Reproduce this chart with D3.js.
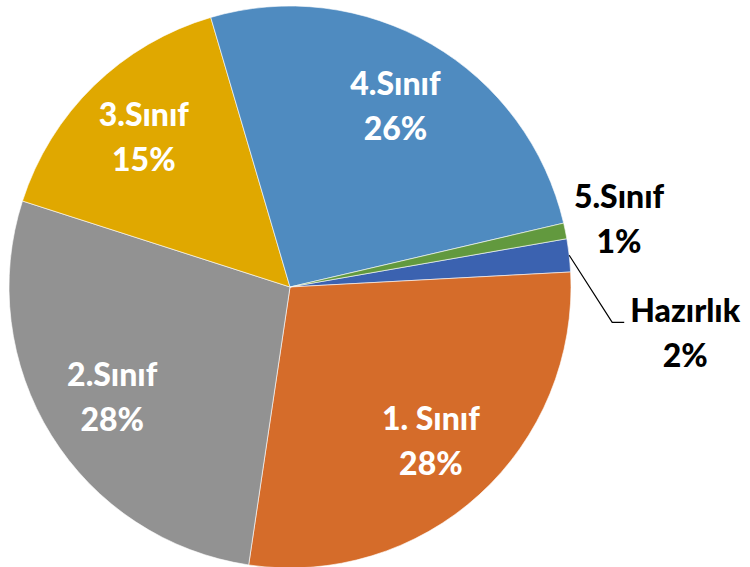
<!DOCTYPE html>
<html>
<head>
<meta charset="utf-8">
<script src="https://cdn.jsdelivr.net/npm/d3@7"></script>
<style>
  html, body { margin: 0; padding: 0; background: #fff; }
  svg { display: block; }
  text { font-family: Lato, "Open Sans", "DejaVu Sans", sans-serif; font-weight: 900; }
</style>
</head>
<body>
<svg id="chart" width="750" height="567"></svg>
<script>
// ---- data ----
const categories = ["Hazırlık", "1. Sınıf", "2.Sınıf", "3.Sınıf", "4.Sınıf", "5.Sınıf"];
const values = [1.9, 28.2, 27.6, 15.5, 25.9, 0.9];
const percentLabels = ["2%", "28%", "28%", "15%", "26%", "1%"];
const colors = ["#3B62B0", "#D56C2A", "#929292", "#E0A800", "#4F8BC0", "#62993E"];

// ---- layout ----
const W = 750, H = 567;
const cx = 290, cy = 287, R = 281;
const startDeg = 80.1;

const svg = d3.select("#chart");
const g = svg.append("g").attr("transform", `translate(${cx},${cy})`);

const pie = d3.pie()
  .value(d => d.v)
  .sort(null)
  .startAngle(startDeg * Math.PI / 180)
  .endAngle(startDeg * Math.PI / 180 + 2 * Math.PI);

const data = categories.map((c, i) => ({ c, v: values[i], p: percentLabels[i], col: colors[i] }));
const arcs = pie(data);

const arc = d3.arc().innerRadius(0).outerRadius(R);

g.selectAll("path.slice")
  .data(arcs)
  .enter().append("path")
  .attr("class", "slice")
  .attr("d", arc)
  .attr("fill", d => d.data.col)
  .attr("stroke", "#ffffff")
  .attr("stroke-opacity", 0.6)
  .attr("stroke-width", 1);

const fontSize = 32;
const lineGap = 45;

function polar(angle, r) {
  return [Math.sin(angle) * r, -Math.cos(angle) * r];
}

arcs.forEach(a => {
  const mid = (a.startAngle + a.endAngle) / 2;
  const span = a.endAngle - a.startAngle;
  let x, y, fill;
  if (span > 0.3) {
    [x, y] = polar(mid, R * 0.745);
    fill = "#ffffff";
  } else if (a.data.c === "5.Sınıf") {
    [x, y] = polar(mid, R * 1.195);
    fill = "#000000";
  } else {
    // leader-line label
    const p0 = polar(mid, R);
    const p1 = [p0[0] + 43, p0[1] + 67];
    const p2 = [p1[0] + 12, p1[1]];
    g.append("path")
      .attr("d", d3.line()([p0, p1, p2]))
      .attr("fill", "none")
      .attr("stroke", "#000")
      .attr("stroke-width", 1.2);
    x = p2[0] + 61;
    y = p2[1] + 11;
    fill = "#000000";
  }
  const t = g.append("text")
    .attr("x", x).attr("y", y)
    .attr("text-anchor", "middle")
    .attr("fill", fill)
    .style("font-size", fontSize + "px");
  t.append("tspan").attr("x", x).attr("y", y - lineGap / 2 + 11).text(a.data.c);
  t.append("tspan").attr("x", x).attr("y", y + lineGap / 2 + 11).text(a.data.p);
});
</script>
</body>
</html>
